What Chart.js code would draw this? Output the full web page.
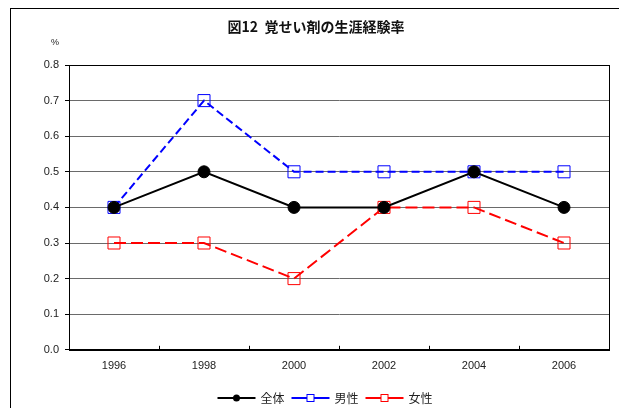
<!DOCTYPE html>
<html><head><meta charset="utf-8">
<script src="https://cdn.jsdelivr.net/npm/chart.js@4"></script>
<style>
html,body{margin:0;padding:0;background:#fff;overflow:hidden}
#wrap{position:relative;width:619px;height:408px}
#frame{position:absolute;left:10px;top:8px;width:640px;height:440px;border-left:1px solid #000;border-top:1px solid #000;pointer-events:none}
canvas{position:absolute;left:0;top:0}
</style></head><body>
<div id="wrap"><canvas id="c" width="619" height="408"></canvas><div id="frame"></div></div>
<script>
const chartTitle = '図12  覚せい剤の生涯経験率';
const unitLabel = '%';
const years = ['1996', '1998', '2000', '2002', '2004', '2006'];
const seriesNames = ['全体', '男性', '女性'];
const totalValues = [0.4, 0.5, 0.4, 0.4, 0.5, 0.4];
const maleValues = [0.4, 0.7, 0.5, 0.5, 0.5, 0.5];
const femaleValues = [0.3, 0.3, 0.2, 0.4, 0.4, 0.3];
const yTicks = [0.0, 0.1, 0.2, 0.3, 0.4, 0.5, 0.6, 0.7, 0.8];

const FONT = "'Liberation Sans', Arial, 'Noto Sans CJK JP', sans-serif";
const JFONT = "'Noto Sans CJK JP', 'Liberation Sans', sans-serif";

const framePlugin = {
  id: 'framePlugin',
  beforeDatasetsDraw(chart) {
    const {ctx, chartArea: a, scales: {x}} = chart;
    ctx.save();
    ctx.strokeStyle = '#000';
    ctx.lineWidth = 1;
    ctx.beginPath();
    for (let i = 1; i < years.length; i++) {
      const px = Math.round((x.getPixelForValue(i - 1) + x.getPixelForValue(i)) / 2) + 0.5;
      ctx.moveTo(px, a.bottom);
      ctx.lineTo(px, a.bottom - 4);
    }
    ctx.stroke();
    ctx.strokeRect(Math.round(a.left) + 0.5, Math.round(a.top) + 0.5, Math.round(a.right - a.left), Math.round(a.bottom - a.top));
    ctx.restore();
  },
  afterDraw(chart) {
    const {ctx} = chart;
    ctx.save();
    // title
    ctx.font = "bold 14px " + JFONT;
    ctx.fillStyle = '#111';
    ctx.textAlign = 'center';
    ctx.textBaseline = 'middle';
    ctx.fillText(chartTitle, 316, 27);
    // unit label
    ctx.font = "9px " + FONT;
    ctx.fillStyle = '#222';
    ctx.fillText(unitLabel, 55, 43);
    // legend
    ctx.font = "12px " + JFONT;
    const lineLen = 38, gapText = 5, gapItem = 7;
    const ds = chart.data.datasets;
    const widths = ds.map(d => lineLen + gapText + ctx.measureText(d.label).width);
    const total = widths.reduce((s, w) => s + w, 0) + gapItem * (ds.length - 1);
    let x0 = 325 - total / 2;
    const y = 398;
    ds.forEach((d, i) => {
      ctx.strokeStyle = d.borderColor;
      ctx.lineWidth = 2;
      ctx.setLineDash([]);
      ctx.beginPath();
      ctx.moveTo(x0, y);
      ctx.lineTo(x0 + lineLen, y);
      ctx.stroke();
      const cx = x0 + lineLen / 2;
      if (d.pointStyle === 'circle') {
        ctx.fillStyle = d.pointBackgroundColor;
        ctx.beginPath();
        ctx.arc(cx, y, 3.5, 0, Math.PI * 2);
        ctx.fill();
      } else {
        ctx.fillStyle = '#fff';
        ctx.lineWidth = 1;
        ctx.fillRect(cx - 3.5, y - 3.5, 7, 7);
        ctx.strokeRect(cx - 3.5, y - 3.5, 7, 7);
      }
      ctx.fillStyle = '#222';
      ctx.textAlign = 'left';
      ctx.textBaseline = 'middle';
      ctx.fillText(d.label, x0 + lineLen + gapText, y);
      x0 += widths[i] + gapItem;
    });
    ctx.restore();
  }
};

new Chart(document.getElementById('c'), {
  type: 'line',
  data: {
    labels: years,
    datasets: [
      {
        label: seriesNames[0], data: totalValues,
        borderColor: '#000', backgroundColor: '#000', borderWidth: 2,
        pointStyle: 'circle', pointRadius: 6, pointBackgroundColor: '#000', pointBorderColor: '#000', pointBorderWidth: 1,
        tension: 0, fill: false
      },
      {
        label: seriesNames[1], data: maleValues,
        borderColor: '#0000ff', backgroundColor: 'rgba(0,0,0,0)', borderWidth: 2, borderDash: [8, 4],
        pointStyle: 'rect', pointRadius: 8.5, pointBackgroundColor: 'rgba(0,0,0,0)', pointBorderColor: '#0000ff', pointBorderWidth: 1,
        tension: 0, fill: false
      },
      {
        label: seriesNames[2], data: femaleValues,
        borderColor: '#ff0000', backgroundColor: 'rgba(0,0,0,0)', borderWidth: 2, borderDash: [12, 5],
        pointStyle: 'rect', pointRadius: 8.5, pointBackgroundColor: 'rgba(0,0,0,0)', pointBorderColor: '#ff0000', pointBorderWidth: 1,
        tension: 0, fill: false
      }
    ]
  },
  options: {
    responsive: false,
    animation: false,
    devicePixelRatio: 1,
    layout: {padding: {left: 0, right: 10, top: 65, bottom: 25}},
    plugins: {
      legend: {display: false},
      tooltip: {enabled: false},
      title: {display: false}
    },
    scales: {
      x: {
        type: 'category', offset: true,
        grid: {display: false, drawTicks: false, tickLength: 0},
        border: {display: true, color: '#000', width: 1},
        ticks: {color: '#222', font: {family: FONT, size: 11}, padding: 10, maxRotation: 0}
      },
      y: {
        min: 0, max: 0.8,
        afterFit(s) { s.width = 69; },
        afterBuildTicks(s) { s.ticks = yTicks.map(v => ({value: v})); },
        grid: {color: '#6a6a6a', lineWidth: 1, tickLength: 4, tickColor: '#000', drawTicks: true},
        border: {display: true, color: '#000', width: 1},
        ticks: {color: '#222', font: {family: FONT, size: 11}, padding: 6, callback: v => Number(v).toFixed(1)}
      }
    }
  },
  plugins: [framePlugin]
});
</script>
</body></html>
